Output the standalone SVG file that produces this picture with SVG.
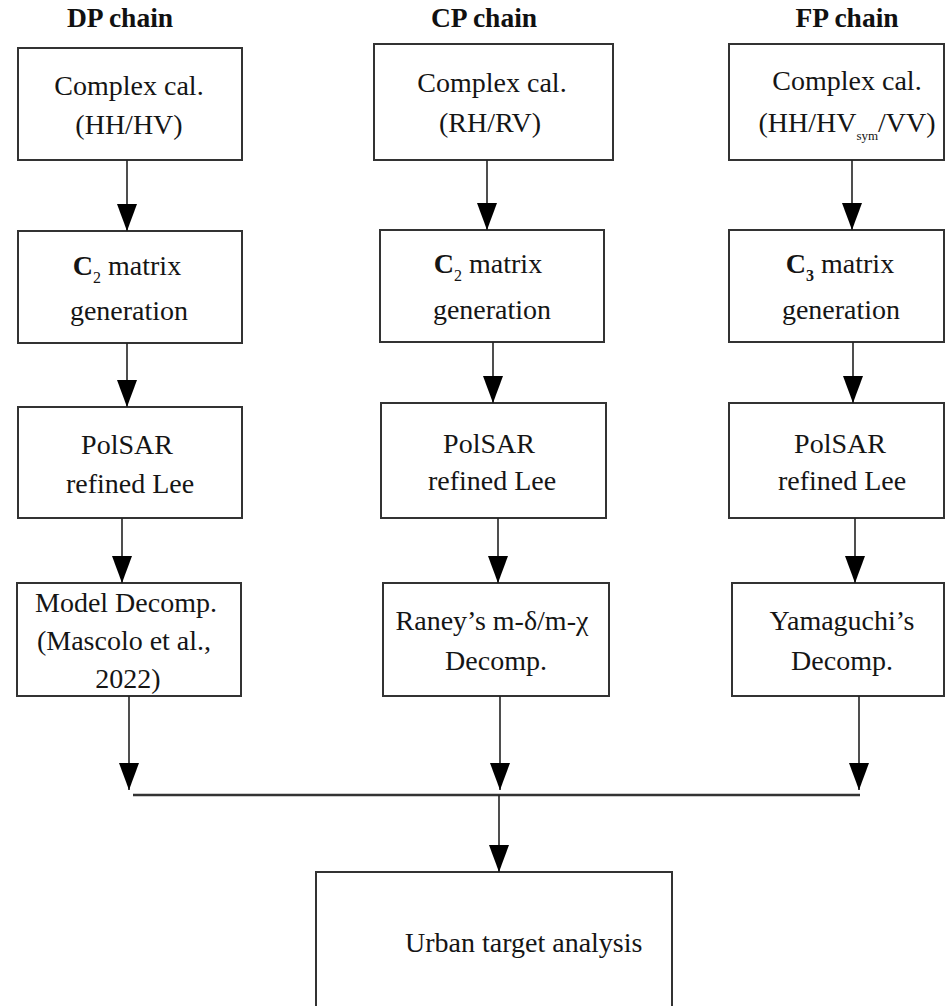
<svg xmlns="http://www.w3.org/2000/svg" width="945" height="1006" viewBox="0 0 945 1006">
<style>
.box{fill:#fff;stroke:#333;stroke-width:2}
.t{font-family:"Liberation Serif","Times New Roman",serif;font-size:28px;fill:#151515;text-anchor:middle}
.h{font-family:"Liberation Serif","Times New Roman",serif;font-size:27.5px;font-weight:bold;fill:#111;text-anchor:middle}
.c{stroke:#222;stroke-width:1.6;fill:none}
.bar{stroke:#333;stroke-width:2.5;fill:none}
</style>
<defs>
<marker id="ah" markerUnits="userSpaceOnUse" markerWidth="28" markerHeight="20" refX="27" refY="10" orient="auto">
<path d="M0,0 L27,10 L0,20 z" fill="#000"/>
</marker>
</defs>
<rect width="945" height="1006" fill="#fff"/>
<g id="titles">
<text class="h" x="120" y="27">DP chain</text>
<text class="h" x="484" y="27">CP chain</text>
<text class="h" x="847" y="27">FP chain</text>
</g>
<g id="dp1"><rect class="box" x="18" y="48" width="224" height="112"/>
<text class="t" x="129" y="95">Complex cal.</text><text class="t" x="129" y="134">(HH/HV)</text></g>
<g id="dp2"><rect class="box" x="18" y="231" width="224" height="112"/>
<text class="t" x="127" y="275"><tspan font-weight="bold">C</tspan><tspan font-size="16" dy="8">2</tspan><tspan dy="-8"> matrix</tspan></text>
<text class="t" x="129" y="320">generation</text></g>
<g id="dp3"><rect class="box" x="18" y="407" width="224" height="111"/>
<text class="t" x="127" y="454">PolSAR</text><text class="t" x="130" y="493">refined Lee</text></g>
<g id="dp4"><rect class="box" x="17" y="583" width="224" height="113"/>
<text class="t" x="126" y="612">Model Decomp.</text><text class="t" x="124" y="650">(Mascolo et al.,</text><text class="t" x="128" y="688">2022)</text></g>

<g id="cp1"><rect class="box" x="374" y="44" width="239" height="116"/>
<text class="t" x="492" y="92">Complex cal.</text><text class="t" x="490" y="132">(RH/RV)</text></g>
<g id="cp2"><rect class="box" x="380" y="230" width="224" height="112"/>
<text class="t" x="488" y="273"><tspan font-weight="bold">C</tspan><tspan font-size="16" dy="8">2</tspan><tspan dy="-8"> matrix</tspan></text>
<text class="t" x="492" y="319">generation</text></g>
<g id="cp3"><rect class="box" x="381" y="403" width="225" height="115"/>
<text class="t" x="489" y="453">PolSAR</text><text class="t" x="492" y="490">refined Lee</text></g>
<g id="cp4"><rect class="box" x="383" y="583" width="226" height="113"/>
<text class="t" x="492" y="630">Raney’s m-δ/m-χ</text><text class="t" x="496" y="670">Decomp.</text></g>

<g id="fp1"><rect class="box" x="729" y="44" width="215" height="116"/>
<text class="t" x="847" y="90">Complex cal.</text>
<text class="t" x="847" y="132">(HH/HV<tspan font-size="13" dy="8">sym</tspan><tspan dy="-8">/VV)</tspan></text></g>
<g id="fp2"><rect class="box" x="729" y="230" width="215" height="112"/>
<text class="t" x="840" y="273"><tspan font-weight="bold">C</tspan><tspan font-size="16" font-weight="bold" dy="8">3</tspan><tspan dy="-8"> matrix</tspan></text>
<text class="t" x="841" y="319">generation</text></g>
<g id="fp3"><rect class="box" x="729" y="403" width="215" height="115"/>
<text class="t" x="840" y="453">PolSAR</text><text class="t" x="842" y="490">refined Lee</text></g>
<g id="fp4"><rect class="box" x="732" y="583" width="212" height="113"/>
<text class="t" x="842" y="630">Yamaguchi’s</text><text class="t" x="842" y="670">Decomp.</text></g>

<g id="urban"><rect class="box" x="316" y="872" width="356" height="150"/>
<text class="t" x="405" y="952" style="text-anchor:start">Urban target analysis</text></g>

<g id="connectors">
<line class="c" x1="127" y1="160" x2="127" y2="231" marker-end="url(#ah)"/>
<line class="c" x1="127" y1="343" x2="127" y2="407" marker-end="url(#ah)"/>
<line class="c" x1="122" y1="518" x2="122" y2="583" marker-end="url(#ah)"/>
<line class="c" x1="129" y1="696" x2="129" y2="790" marker-end="url(#ah)"/>
<line class="c" x1="487" y1="160" x2="487" y2="230" marker-end="url(#ah)"/>
<line class="c" x1="493" y1="342" x2="493" y2="403" marker-end="url(#ah)"/>
<line class="c" x1="498" y1="518" x2="498" y2="583" marker-end="url(#ah)"/>
<line class="c" x1="500" y1="696" x2="500" y2="790" marker-end="url(#ah)"/>
<line class="c" x1="852" y1="160" x2="852" y2="230" marker-end="url(#ah)"/>
<line class="c" x1="853" y1="342" x2="853" y2="403" marker-end="url(#ah)"/>
<line class="c" x1="855" y1="518" x2="855" y2="583" marker-end="url(#ah)"/>
<line class="c" x1="859" y1="696" x2="859" y2="790" marker-end="url(#ah)"/>
<line class="bar" x1="133" y1="795" x2="860" y2="795"/>
<line class="c" x1="499" y1="795" x2="499" y2="872" marker-end="url(#ah)"/>
</g>
</svg>
